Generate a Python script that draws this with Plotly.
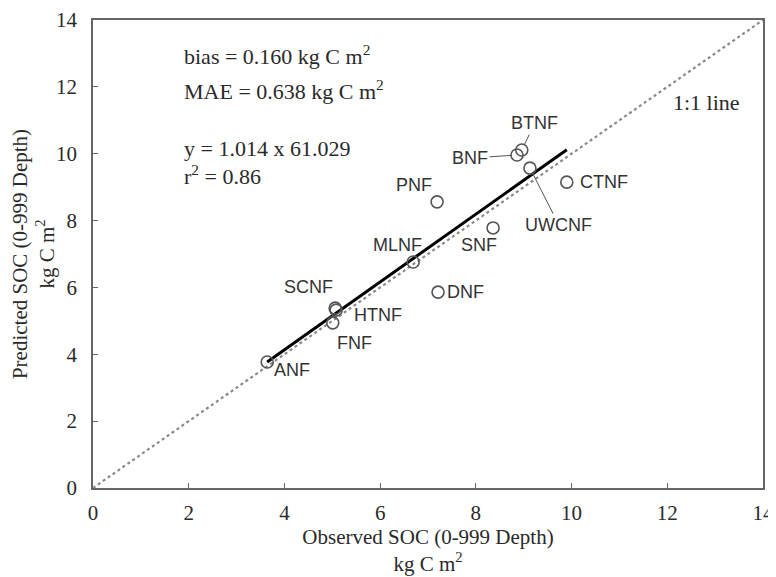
import plotly.graph_objects as go

sites = ["ANF", "SCNF", "HTNF", "FNF", "MLNF", "DNF", "PNF", "SNF", "BNF", "BTNF", "UWCNF", "CTNF"]
observed = [3.64, 5.06, 5.08, 5.01, 6.69, 7.21, 7.19, 8.36, 8.86, 8.96, 9.13, 9.90]
predicted = [3.77, 5.38, 5.32, 4.94, 6.76, 5.86, 8.56, 7.78, 9.96, 10.11, 9.57, 9.15]
slope = 1.014
intercept = 0.08
stats_text = ["bias = 0.160 kg C m<sup>2</sup>", "MAE = 0.638 kg C m<sup>2</sup>",
              "y = 1.014 x 61.029", "r<sup>2</sup> = 0.86"]
ticks = [0, 2, 4, 6, 8, 10, 12, 14]

SERIF = "Liberation Serif, Times New Roman, serif"
SANS = "Liberation Sans, Arial, sans-serif"
TXT = "#2a2a2a"

fig = go.Figure()
# 1:1 line
fig.add_trace(go.Scatter(x=[ticks[0], ticks[-1]], y=[ticks[0], ticks[-1]], mode="lines",
                         line=dict(color="#8a8a8a", width=2.2, dash="dot"), showlegend=False))
# regression line
xmin, xmax = min(observed), max(observed)
fig.add_trace(go.Scatter(x=[xmin, xmax], y=[slope * xmin + intercept, slope * xmax + intercept],
                         mode="lines", line=dict(color="black", width=3), showlegend=False))
# points
fig.add_trace(go.Scatter(x=observed, y=predicted, mode="markers",
                         marker=dict(symbol="circle-open", size=12, color="#555555",
                                     line=dict(width=1.6, color="#555555")),
                         showlegend=False))

# label offsets (pixels)
label_style = {
    "ANF": dict(xshift=25, yshift=-8),
    "SCNF": dict(xshift=-27, yshift=21),
    "HTNF": dict(xshift=42, yshift=-5),
    "FNF": dict(xshift=22, yshift=-20),
    "MLNF": dict(xshift=-16, yshift=17),
    "DNF": dict(xshift=27, yshift=0),
    "PNF": dict(xshift=-23, yshift=17),
    "SNF": dict(xshift=-14, yshift=-17),
    "CTNF": dict(xshift=37, yshift=0),
}
arrow_style = {
    "BNF": dict(ax=-47, ay=3),
    "BTNF": dict(ax=13, ay=-27),
    "UWCNF": dict(ax=29, ay=57),
}
for s, xv, yv in zip(sites, observed, predicted):
    if s in label_style:
        fig.add_annotation(x=xv, y=yv, text=s, showarrow=False,
                           font=dict(family=SANS, size=18, color="#333333"), **label_style[s])
    else:
        fig.add_annotation(x=xv, y=yv, text=s, showarrow=True, arrowhead=0, arrowwidth=1,
                           arrowcolor="#555555", standoff=6,
                           font=dict(family=SANS, size=18, color="#333333"), **arrow_style[s])

stat_y = [12.95, 11.91, 10.17, 9.36]
for t, yv in zip(stats_text, stat_y):
    fig.add_annotation(x=1.85, y=yv, xanchor="left", text=t, showarrow=False,
                       font=dict(family=SERIF, size=22, color=TXT))
fig.add_annotation(x=12.81, y=11.52, text="1:1 line", showarrow=False,
                   font=dict(family=SERIF, size=22, color=TXT))

axis_common = dict(range=[0, 14], tickvals=ticks, ticks="inside", ticklen=5, tickcolor="#666666",
                   showline=True, linecolor="#666666", linewidth=1.5, mirror=True,
                   showgrid=False, zeroline=False, automargin=False,
                   tickfont=dict(family=SERIF, size=21, color=TXT))
fig.update_xaxes(title=dict(text="Observed SOC (0-999 Depth)<br>kg C m<sup>2</sup>",
                            font=dict(family=SERIF, size=21, color=TXT), standoff=4),
                 ticklabelstandoff=5, **axis_common)
fig.update_yaxes(title=dict(text="Predicted SOC (0-999 Depth)<br>kg C m<sup>2</sup>",
                            font=dict(family=SERIF, size=21, color=TXT), standoff=4),
                 ticklabelstandoff=10, **axis_common)
fig.update_layout(width=768, height=569, margin=dict(l=85, r=13, t=12, b=89),
                  plot_bgcolor="white", paper_bgcolor="white", showlegend=False)
fig.write_html("out.html")
